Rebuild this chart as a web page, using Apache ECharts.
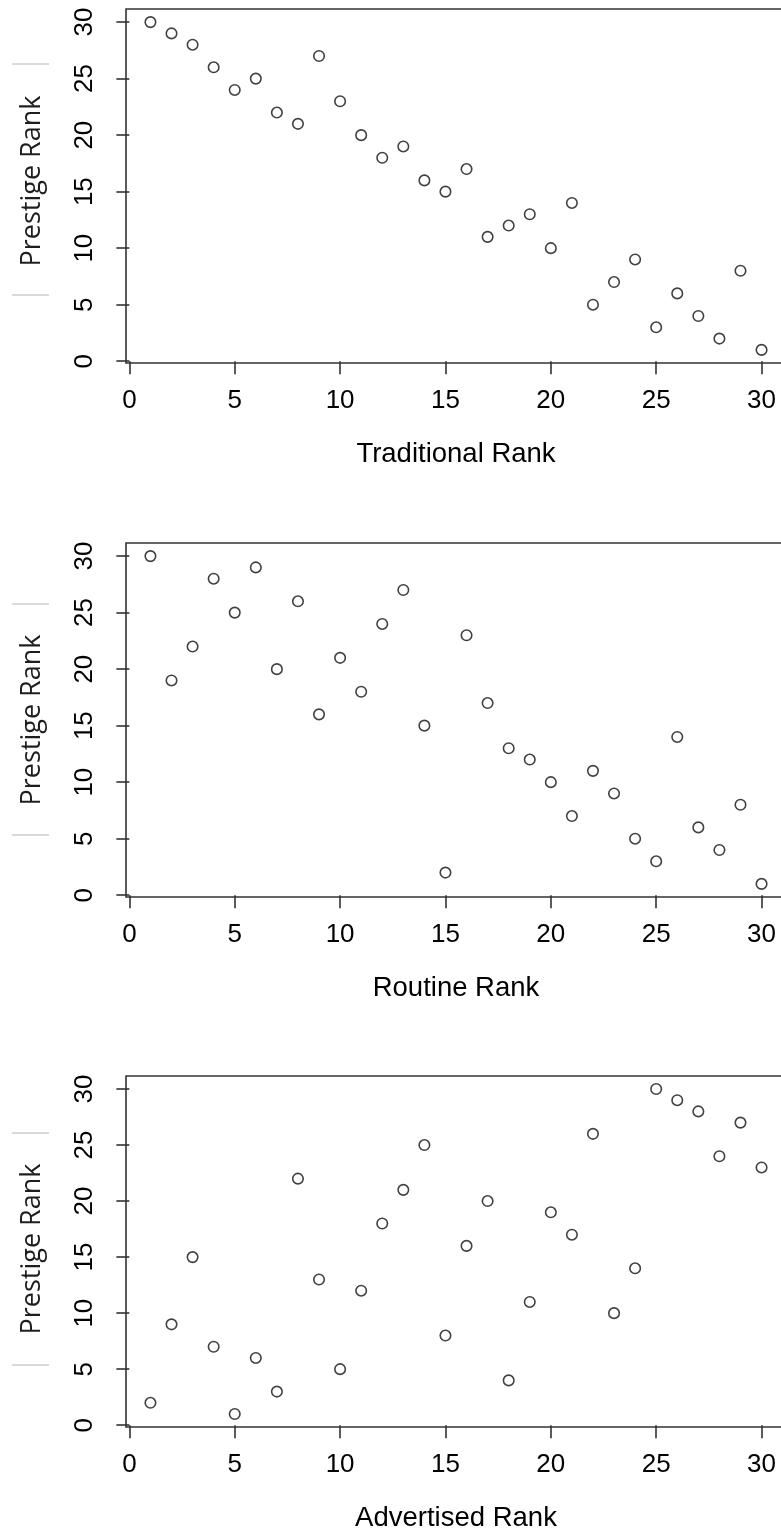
<!DOCTYPE html>
<html>
<head>
<meta charset="utf-8">
<script src="https://cdn.jsdelivr.net/npm/echarts@6/dist/echarts.min.js"></script>
<style>
  html, body { margin: 0; padding: 0; background: #ffffff; overflow: hidden; }
  #chart { width: 790px; height: 1533px; }
</style>
</head>
<body>
<div id="chart"></div>
<script>
// Rank on the horizontal axis (1..30), shared by all three panels
const ranks = [1,2,3,4,5,6,7,8,9,10,11,12,13,14,15,16,17,18,19,20,21,22,23,24,25,26,27,28,29,30];

// Prestige rank for each position of the three rankings
const prestigeByTraditional = [30,29,28,26,24,25,22,21,27,23,20,18,19,16,15,17,11,12,13,10,14,5,7,9,3,6,4,2,8,1];
const prestigeByRoutine     = [30,19,22,28,25,29,20,26,16,21,18,24,27,15,2,23,17,13,12,10,7,11,9,5,3,14,6,4,8,1];
const prestigeByAdvertised  = [2,9,15,7,1,6,3,22,13,5,12,18,21,25,8,16,20,4,11,19,17,26,10,14,30,29,28,24,27,23];

// Tick labels on both axes
const tickValues = [0,5,10,15,20,25,30];

const xTitles = ['Traditional Rank', 'Routine Rank', 'Advertised Rank'];
const yTitle = 'Prestige Rank';
const panelSeries = [prestigeByTraditional, prestigeByRoutine, prestigeByAdvertised];

const panelTops = [9, 543, 1076];
const panelHeight = 354;
const yTitleCenters = [181, 720, 1249];
const ruleYs = [[64, 295], [604, 835], [1133, 1365]];

const frameColor = '#333333';
const textFont = '"Liberation Sans", Arial, Helvetica, sans-serif';

const chart = echarts.init(document.getElementById('chart'), null, { renderer: 'canvas' });

const grids = [], xAxes = [], yAxes = [], series = [], graphics = [];

panelSeries.forEach((vals, i) => {
  grids.push({
    left: 126, top: panelTops[i], width: 660, height: panelHeight,
    show: true, borderColor: frameColor, borderWidth: 1.6, backgroundColor: 'transparent',
    containLabel: false
  });
  xAxes.push({
    type: 'value', gridIndex: i, min: -0.16, max: 31.16,
    splitLine: { show: false },
    axisLine: { show: false },
    axisTick: { show: true, customValues: tickValues, length: 13, lineStyle: { color: frameColor, width: 1.6 } },
    axisLabel: { show: true, customValues: tickValues, margin: 25, fontSize: 26, color: '#000', fontFamily: textFont },
    name: xTitles[i], nameLocation: 'middle', nameGap: 77, nameMoveOverlap: false,
    nameTextStyle: { fontSize: 27.5, color: '#000', fontFamily: textFont }
  });
  yAxes.push({
    type: 'value', gridIndex: i, min: -0.16, max: 31.16,
    splitLine: { show: false },
    axisLine: { show: false },
    axisTick: { show: true, customValues: tickValues, length: 13, lineStyle: { color: frameColor, width: 1.6 } },
    axisLabel: { show: true, customValues: tickValues, rotate: 90, margin: 28, fontSize: 26, color: '#000', fontFamily: textFont }
  });
  series.push({
    type: 'scatter', xAxisIndex: i, yAxisIndex: i,
    data: ranks.map((r, k) => [r, vals[k]]),
    symbol: 'circle', symbolSize: 10.5,
    itemStyle: { color: 'rgba(255,255,255,0)', borderColor: '#111', borderWidth: 1.6 },
    emphasis: { disabled: true },
    animation: false
  });
  // vertical title with its two thin rules
  graphics.push({
    type: 'text', x: 32, y: yTitleCenters[i], rotation: Math.PI / 2,
    style: { text: yTitle, fill: '#1e1e1e', font: '27px "Open Sans", sans-serif', align: 'center', verticalAlign: 'middle' }
  });
  ruleYs[i].forEach(y => graphics.push({
    type: 'line', shape: { x1: 12, y1: y, x2: 49, y2: y },
    style: { stroke: '#b4b4b4', lineWidth: 1 }
  }));
});

chart.setOption({
  backgroundColor: '#ffffff',
  animation: false,
  grid: grids,
  xAxis: xAxes,
  yAxis: yAxes,
  series: series,
  graphic: graphics
});
</script>
</body>
</html>
